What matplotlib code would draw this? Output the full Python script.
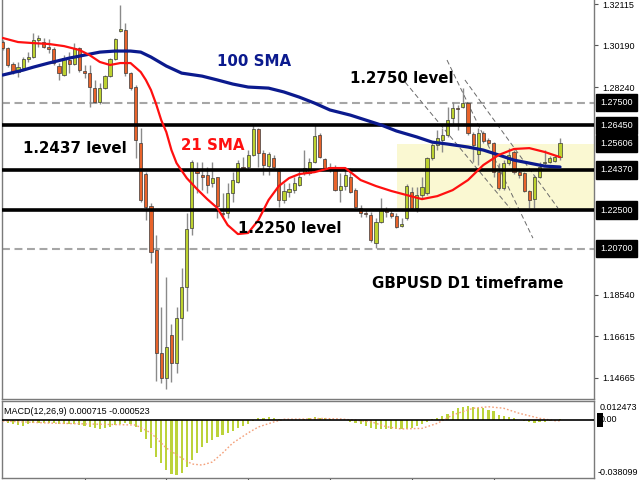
import numpy as np
import matplotlib.pyplot as plt
import matplotlib.transforms as mtransforms
from matplotlib.patches import Rectangle

# ---- GBPUSD daily candles ----
opens = [1.3034, 1.3006, 1.2931, 1.2894, 1.2913, 1.2955, 1.2964, 1.3043, 1.3034, 1.3011,
         1.3001, 1.2922, 1.2880, 1.2950, 1.2931, 1.3006, 1.2899, 1.2889, 1.2819, 1.2754,
         1.2819, 1.2875, 1.2955, 1.3085, 1.3090, 1.2889, 1.2824, 1.2563, 1.2418, 1.2269,
         1.2063, 1.1583, 1.1466, 1.1667, 1.1536, 1.1746, 1.1891, 1.2166, 1.2432, 1.2413,
         1.2413, 1.2376, 1.2404, 1.2236, 1.2236, 1.2329, 1.2381, 1.2451, 1.2451, 1.2507,
         1.2628, 1.2516, 1.2455, 1.2493, 1.2432, 1.2297, 1.2334, 1.2343, 1.2367, 1.2423,
         1.2423, 1.2474, 1.2600, 1.2488, 1.2451, 1.2451, 1.2343, 1.2362, 1.2404, 1.2343,
         1.2259, 1.2236, 1.2227, 1.2096, 1.2194, 1.2250, 1.2236, 1.2222, 1.2175, 1.2213,
         1.2334, 1.2259, 1.2320, 1.2329, 1.2493, 1.2553, 1.2577, 1.2600, 1.2679, 1.2726,
         1.2731, 1.2749, 1.2605, 1.2511, 1.2609, 1.2577, 1.2563, 1.2427, 1.2353, 1.2469,
         1.2521, 1.2427, 1.2423, 1.2339, 1.2301, 1.2404, 1.2469, 1.2474, 1.2479, 1.2497]
highs = [1.3043, 1.3011, 1.2941, 1.2941, 1.2964, 1.2987, 1.3076, 1.3067, 1.3053, 1.3048,
         1.3011, 1.2936, 1.2973, 1.2987, 1.3029, 1.3011, 1.2927, 1.2927, 1.2857, 1.2843,
         1.2880, 1.2959, 1.3053, 1.3207, 1.3123, 1.2894, 1.2833, 1.2633, 1.2427, 1.2283,
         1.2133, 1.1797, 1.1937, 1.1718, 1.1797, 1.1979, 1.2236, 1.2483, 1.2474, 1.2474,
         1.2451, 1.2474, 1.2404, 1.2329, 1.2376, 1.2427, 1.2483, 1.2497, 1.2530, 1.2647,
         1.2633, 1.2530, 1.2521, 1.2507, 1.2446, 1.2376, 1.2376, 1.2404, 1.2437, 1.2530,
         1.2493, 1.2647, 1.2609, 1.2493, 1.2469, 1.2460, 1.2423, 1.2437, 1.2446, 1.2353,
         1.2273, 1.2250, 1.2241, 1.2213, 1.2306, 1.2264, 1.2250, 1.2236, 1.2213, 1.2371,
         1.2357, 1.2357, 1.2404, 1.2497, 1.2563, 1.2623, 1.2633, 1.2731, 1.2754, 1.2740,
         1.2819, 1.2754, 1.2614, 1.2633, 1.2619, 1.2586, 1.2567, 1.2469, 1.2483, 1.2539,
         1.2530, 1.2437, 1.2427, 1.2343, 1.2413, 1.2474, 1.2530, 1.2502, 1.2507, 1.2586]
lows = [1.2997, 1.2917, 1.2885, 1.2871, 1.2908, 1.2941, 1.2959, 1.3011, 1.3006, 1.2983,
        1.2927, 1.2857, 1.2875, 1.2889, 1.2927, 1.2894, 1.2866, 1.2731, 1.2749, 1.2745,
        1.2815, 1.2871, 1.2950, 1.3081, 1.2875, 1.2810, 1.2493, 1.2287, 1.2203, 1.2003,
        1.1452, 1.1443, 1.1415, 1.1447, 1.1489, 1.1643, 1.1779, 1.2133, 1.2329, 1.2343,
        1.2329, 1.2357, 1.2213, 1.2217, 1.2213, 1.2287, 1.2376, 1.2437, 1.2437, 1.2502,
        1.2451, 1.2413, 1.2413, 1.2437, 1.2264, 1.2283, 1.2311, 1.2329, 1.2362, 1.2413,
        1.2413, 1.2469, 1.2493, 1.2437, 1.2427, 1.2339, 1.2287, 1.2343, 1.2329, 1.2259,
        1.2217, 1.2217, 1.2101, 1.2073, 1.2189, 1.2217, 1.2213, 1.2166, 1.2171, 1.2203,
        1.2250, 1.2241, 1.2306, 1.2320, 1.2483, 1.2530, 1.2521, 1.2591, 1.2647, 1.2623,
        1.2726, 1.2600, 1.2474, 1.2460, 1.2563, 1.2553, 1.2404, 1.2343, 1.2343, 1.2460,
        1.2418, 1.2399, 1.2334, 1.2259, 1.2259, 1.2399, 1.2460, 1.2469, 1.2474, 1.2483]
closes = [1.3006, 1.2927, 1.2894, 1.2917, 1.2955, 1.2964, 1.3043, 1.3053, 1.3011, 1.3001,
          1.2936, 1.2889, 1.2959, 1.2931, 1.3006, 1.2903, 1.2889, 1.2824, 1.2754, 1.2819,
          1.2875, 1.2955, 1.3048, 1.3095, 1.2889, 1.2819, 1.2577, 1.2297, 1.2264, 1.2054,
          1.1583, 1.1466, 1.1611, 1.1536, 1.1746, 1.1891, 1.2161, 1.2474, 1.2423, 1.2404,
          1.2367, 1.2399, 1.2269, 1.2231, 1.2329, 1.2390, 1.2469, 1.2446, 1.2507, 1.2628,
          1.2516, 1.2460, 1.2511, 1.2451, 1.2297, 1.2339, 1.2348, 1.2376, 1.2404, 1.2446,
          1.2474, 1.2595, 1.2497, 1.2446, 1.2441, 1.2343, 1.2362, 1.2413, 1.2334, 1.2264,
          1.2236, 1.2231, 1.2110, 1.2194, 1.2250, 1.2241, 1.2222, 1.2171, 1.2185, 1.2362,
          1.2259, 1.2320, 1.2357, 1.2493, 1.2553, 1.2586, 1.2600, 1.2670, 1.2726, 1.2721,
          1.2749, 1.2609, 1.2553, 1.2609, 1.2572, 1.2563, 1.2427, 1.2353, 1.2469, 1.2507,
          1.2427, 1.2413, 1.2339, 1.2297, 1.2404, 1.2451, 1.2474, 1.2493, 1.2497, 1.2561]

# moving averages, sampled at candle indices
sma100_idx = [0, 4, 6, 9, 13, 16, 19, 22, 25, 27, 29, 32, 35, 39, 42, 45, 48, 52, 55, 58,
              61, 64, 68, 71, 74, 77, 81, 84, 87, 91, 94, 97, 100, 103, 106, 109]
sma100 = [1.2880, 1.2903, 1.2917, 1.2936, 1.2959, 1.2973, 1.2987, 1.2992, 1.2992, 1.2987,
          1.2964, 1.2922, 1.2889, 1.2875, 1.2857, 1.2838, 1.2824, 1.2819, 1.2801, 1.2777,
          1.2749, 1.2717, 1.2693, 1.2670, 1.2647, 1.2619, 1.2591, 1.2567, 1.2558, 1.2544,
          1.2530, 1.2507, 1.2483, 1.2469, 1.2455, 1.2451]
sma21_idx = [0, 3, 6, 9, 12, 15, 17, 19, 21, 23, 25, 27, 28, 29, 30, 31, 32, 33, 34, 36,
             38, 40, 42, 44, 46, 48, 50, 52, 54, 56, 58, 61, 64, 67, 70, 73, 76, 79, 82, 85,
             88, 91, 94, 97, 100, 103, 106, 109]
sma21 = [1.3053, 1.3034, 1.3029, 1.3025, 1.3015, 1.2997, 1.2973, 1.2941, 1.2927, 1.2936,
         1.2936, 1.2894, 1.2857, 1.2810, 1.2745, 1.2670, 1.2614, 1.2530, 1.2469, 1.2399,
         1.2348, 1.2301, 1.2259, 1.2180, 1.2138, 1.2143, 1.2203, 1.2297, 1.2362, 1.2399,
         1.2418, 1.2427, 1.2446, 1.2446, 1.2390, 1.2362, 1.2339, 1.2320, 1.2301, 1.2315,
         1.2343, 1.2390, 1.2460, 1.2507, 1.2535, 1.2539, 1.2521, 1.2497]

# MACD(12,26,9): main (histogram) and signal (dotted)
macd = [-0.0007, -0.0022, -0.0028, -0.0033, -0.0039, -0.0028, -0.0022, -0.0022, -0.0022, -0.0022,
        -0.0022, -0.0026, -0.0028, -0.0028, -0.0028, -0.0033, -0.0039, -0.0044, -0.0055, -0.0059,
        -0.0051, -0.0048, -0.0033, -0.0028, -0.0022, -0.0028, -0.0044, -0.0077, -0.0127, -0.0186,
        -0.0241, -0.0284, -0.0329, -0.0355, -0.0361, -0.0350, -0.0311, -0.0263, -0.0215, -0.0175,
        -0.0153, -0.0131, -0.0110, -0.0099, -0.0087, -0.0070, -0.0055, -0.0039, -0.0026, -0.0007,
        0.0011, 0.0015, 0.0018, 0.0015, 0.0007, 0.0003, 0.0002, 0.0002, 0.0003, 0.0007,
        0.0013, 0.0018, 0.0011, 0.0011, 0.0007, 0.0003, 0.0000, -0.0003, -0.0011, -0.0020,
        -0.0028, -0.0039, -0.0053, -0.0059, -0.0061, -0.0061, -0.0061, -0.0061, -0.0061, -0.0057,
        -0.0051, -0.0041, -0.0028, -0.0013, 0.0005, 0.0015, 0.0028, 0.0041, 0.0061, 0.0077,
        0.0087, 0.0092, 0.0085, 0.0079, 0.0077, 0.0066, 0.0057, 0.0033, 0.0028, 0.0022,
        0.0015, 0.0003, -0.0007, -0.0013, -0.0020, -0.0015, -0.0011, -0.0007, -0.0005, 0.000715]
sig_idx = [0, 9, 19, 26, 29, 32, 35, 37, 39, 41, 43, 45, 48, 50, 53, 55, 61, 62, 66, 72,
           75, 78, 82, 85, 88, 92, 95, 98, 101, 105, 108, 109]
signal = [-0.0007, -0.0020, -0.0028, -0.0033, -0.0085, -0.0184, -0.0250, -0.0289, -0.0296, -0.0276,
          -0.0217, -0.0151, -0.0085, -0.0046, -0.0013, 0.0005, 0.0007, 0.0010, 0.0007, -0.0011,
          -0.0044, -0.0059, -0.0055, -0.0022, 0.0033, 0.0077, 0.0087, 0.0077, 0.0044, 0.0011,
          -0.0005, -0.000523]

solid_levels = [1.2645, 1.2437, 1.2250]
dashed_levels = [1.2750, 1.2070]
boxed_labels = [1.27500, 1.26450, 1.25606, 1.24370, 1.22500, 1.20700]
# scale ticks that are not hidden behind the boxed labels
scale_ticks = [1.32115, 1.30190, 1.28240, 1.18540, 1.16615, 1.14665]

LABEL_FONT = "Liberation Sans"
UP, DOWN = "#BDD22F", "#E8632B"

# ─── figure / panels ──────────────────────────────────────────────────────
fig = plt.figure(figsize=(6.4, 4.8), dpi=100)
ax = fig.add_axes([2 / 640, 81 / 480, 592 / 640, 399 / 480])
ax2 = fig.add_axes([2 / 640, 2 / 480, 592 / 640, 77 / 480])

step = 5.113  # px per candle
x0 = -0.7 / step
for a in (ax, ax2):
    a.set_xlim(x0, x0 + 592 / step)
    for s in a.spines.values():
        s.set_color("#7a7a7a")
        s.set_linewidth(1.0)
ax.spines["top"].set_visible(False)
ax.set_ylim(1.13683, 1.32302)
ax2.set_ylim(-0.038099, 0.012473)

# highlight zone
ax.add_patch(Rectangle((77.1, 1.2250), 60, 1.2560 - 1.2250, facecolor="#FAF8D2",
                       edgecolor="none", zorder=0))

# levels
for lv in dashed_levels:
    ax.axhline(lv, color="#a6a6a6", lw=1.5, ls=(0, (3.8, 2.2)), zorder=1)
for lv in solid_levels:
    ax.axhline(lv, color="black", lw=2.6, zorder=5)

# channel lines
for (xa, ya), (xb, yb) in [((86.9, 1.2950), (103.7, 1.2119)),
                           ((90.4, 1.2857), (108.6, 1.2259)),
                           ((78.7, 1.2847), (99.2, 1.2259))]:
    ax.plot([xa, xb], [ya, yb], color="#6a6a6a", lw=0.7, ls=(0, (5, 3)), zorder=2)

# candles
o, h, l, c = map(np.array, (opens, highs, lows, closes))
idx = np.arange(len(o))
ax.vlines(idx, l, h, color="#8a8a8a", lw=1.0, zorder=3)
body_lo = np.minimum(o, c)
body_h = np.maximum(np.abs(c - o), 0.0005)
colors = np.where(c >= o, UP, DOWN)
ax.bar(idx, body_h, bottom=body_lo, width=0.62, color=colors,
       edgecolor="#3a3a3a", linewidth=0.5, zorder=4)

# moving averages
ax.plot(sma100_idx, sma100, color="#0B1A8E", lw=2.3, zorder=6, solid_capstyle="round")
ax.plot(sma21_idx, sma21, color="#FF1010", lw=1.6, zorder=6, solid_capstyle="round")

# annotations
bold = dict(fontsize=10.8, fontweight="bold", va="center", ha="left", zorder=8)
ax.text(41.9, 1.2945, "100 SMA", color="#0B1A8E", **bold)
ax.text(67.9, 1.2866, "1.2750 level", color="black", **bold)
ax.text(3.97, 1.2539, "1.2437 level", color="black", **bold)
ax.text(34.9, 1.2553, "21 SMA", color="#FF1010", **bold)
ax.text(46.0, 1.2166, "1.2250 level", color="black", **bold)
ax.text(72.2, 1.1909, "GBPUSD D1 timeframe", color="black", **bold)

# price scale
ax.yaxis.tick_right()
ax.set_yticks(scale_ticks)
ax.set_yticklabels([f"{t:.5f}" for t in scale_ticks], fontsize=6.5, family=LABEL_FONT)
ax.tick_params(axis="y", direction="out", length=3, pad=3, color="#555555")
ax.set_xticks([])
trans = mtransforms.blended_transform_factory(ax.transAxes, ax.transData)
for p in boxed_labels:
    ax.text(1.0 + 6 / 592, p, f"{p:.5f}", transform=trans, color="white", fontsize=6.5,
            family=LABEL_FONT, va="center", ha="left", clip_on=False, zorder=10,
            bbox=dict(boxstyle="square,pad=0.45", fc="black", ec="black"))

# MACD panel
ax2.bar(np.arange(len(macd)), macd, width=0.42, color="#BCD33A", zorder=2)
ax2.plot(sig_idx, signal, color="#F4A07A", lw=1.0, ls=(0, (1.2, 1.5)), zorder=3)
ax2.axhline(0, color="black", lw=1.2, zorder=4)
ax2.set_yticks([])
ax2.set_xticks([16, 32, 48, 64, 80, 96])
ax2.set_xticklabels([])
ax2.tick_params(axis="x", direction="out", length=3, color="#555555")
ax2.text(0.004, 0.86, "MACD(12,26,9) 0.000715 -0.000523", transform=ax2.transAxes,
         fontsize=6.5, family=LABEL_FONT, va="center", ha="left")
ax2.text(1.0 + 6 / 592, 0.92, "0.012473", transform=ax2.transAxes, fontsize=6.5,
         family=LABEL_FONT, va="center", ha="left", clip_on=False)
ax2.text(1.0 + 4 / 592, 0.07, "-0.038099", transform=ax2.transAxes, fontsize=6.5,
         family=LABEL_FONT, va="center", ha="left", clip_on=False)
trans2 = mtransforms.blended_transform_factory(ax2.transAxes, ax2.transData)
ax2.text(1.0 + 6 / 592, 0.0, "0.00", transform=trans2, fontsize=6.5, family=LABEL_FONT,
         va="center", ha="left", clip_on=False,
         bbox=dict(boxstyle="square,pad=0.1", fc="none", ec="none"))
ax2.add_patch(Rectangle((1.0 + 3 / 592, -0.0045), 6 / 592, 0.009, transform=trans2,
                        facecolor="black", clip_on=False, zorder=1))

fig.savefig("out.png", dpi=100)
